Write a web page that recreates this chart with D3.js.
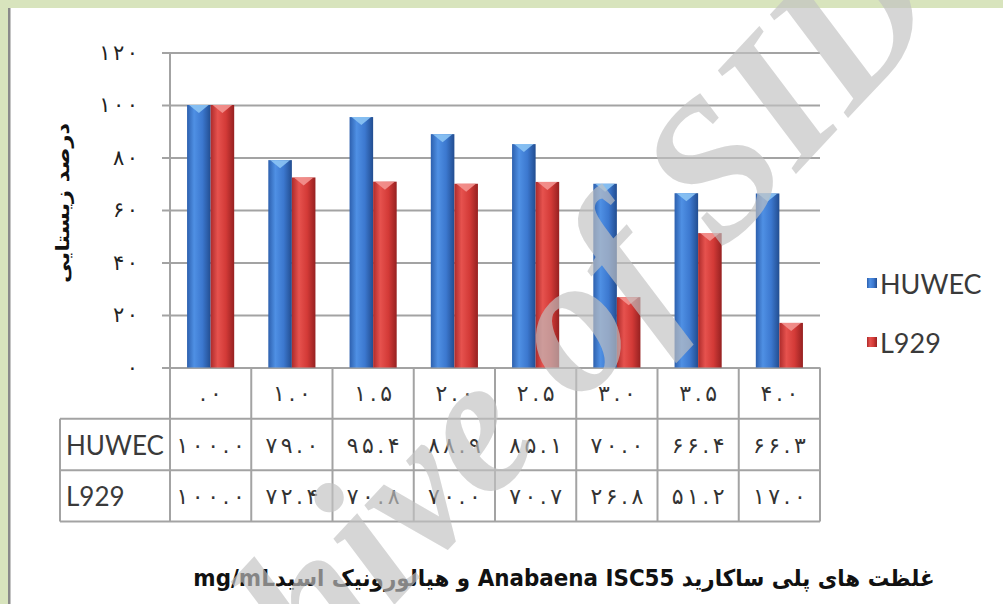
<!DOCTYPE html>
<html>
<head>
<meta charset="utf-8">
<script src="https://cdn.jsdelivr.net/npm/d3@7"></script>
<style>
  html, body { margin: 0; padding: 0; background: #fff; }
  svg { display: block; }
</style>
</head>
<body>
<svg id="chart" width="1003" height="604"></svg>
<script>
// data
const concentrations = [0, 1.0, 1.5, 2.0, 2.5, 3.0, 3.5, 4.0];
const seriesNames = ["HUWEC", "L929"];
const huwec = [100.0, 79.0, 95.4, 88.9, 85.1, 70.0, 66.4, 66.3];
const l929 = [100.0, 72.4, 70.8, 70.0, 70.7, 26.8, 51.2, 17.0];
const yTicks = [0, 20, 40, 60, 80, 100, 120];
const yTitle = "درصد زیستایی";
const xTitle = "غلظت های پلی ساکارید Anabaena ISC55 و هیالورونیک اسیدmg/mL";
const watermark = "Archive of SID";

const W = 1003, H = 604;
const pLeft = 170, pRight = 820, pTop = 52.5, pBase = 367.5, tableBottom = 521.5, tableLeft = 60;

const faDigits = "۰۱۲۳۴۵۶۷۸۹";
const fa = s => String(s).replace(/\d/g, d => faDigits[d]);
// excel "#.0" style, so zero shows as ".0"
const catFmt = v => { const s = v.toFixed(1); return s.startsWith("0") ? s.slice(1) : s; };

// chrome ignores letter-spacing on arabic-script digits, so space them with tspans
function spaced(sel, sp) {
  sel.each(function () {
    const t = d3.select(this);
    const str = t.text();
    t.text(null);
    [...str].forEach((ch, i) => t.append("tspan").attr("dx", i ? sp : null).text(ch));
  });
}

const rows = concentrations.map((c, i) => ({ c, HUWEC: huwec[i], L929: l929[i] }));
const valuesBy = { HUWEC: huwec, L929: l929 };

const svg = d3.select("#chart");
const defs = svg.append("defs");

const grads = {
  HUWEC: ["#2d60ae", "#4f90e4", "#3c78cf", "#224d90"],
  L929:  ["#ad2b2b", "#e6524e", "#d33a37", "#962121"]
};
const capColor = { HUWEC: "#8cc4f4", L929: "#f39490" };
Object.entries(grads).forEach(([k, cols]) => {
  const g = defs.append("linearGradient").attr("id", "g-" + k)
    .attr("x1", "0%").attr("x2", "100%").attr("y1", "0%").attr("y2", "0%");
  [0, 30, 65, 100].forEach((o, i) => g.append("stop").attr("offset", o + "%").attr("stop-color", cols[i]));
});

// page frame
svg.append("rect").attr("width", W).attr("height", H).attr("fill", "#fff");
svg.append("rect").attr("width", W).attr("height", 8).attr("fill", "#d8e4bd");
svg.append("rect").attr("width", 8).attr("height", H).attr("fill", "#d8e4bd");
svg.append("rect").attr("x", 8).attr("y", 8).attr("width", 2.5).attr("height", H - 8).attr("fill", "#8a8a8a");

const y = d3.scaleLinear().domain([0, 120]).range([pBase, pTop]);
const xCol = d3.scaleBand().domain(concentrations).range([pLeft, pRight]);
const x0 = d3.scaleBand().domain(concentrations).range([pLeft, pRight]).paddingInner(0.42).paddingOuter(0.21);
const x1 = d3.scaleBand().domain(seriesNames).range([0, x0.bandwidth()]);
const rowScale = d3.scaleBand().domain(["cat", "HUWEC", "L929"]).range([pBase, tableBottom]);

const lineCol = "#a3a3a3";

// gridlines
svg.append("g").attr("transform", `translate(${pRight},0)`)
  .call(d3.axisLeft(y).tickValues(yTicks).tickSize(pRight - 162).tickFormat(""))
  .call(g => g.select(".domain").remove())
  .selectAll("line").attr("stroke", lineCol).attr("stroke-width", 2);

// y tick labels
svg.append("g").attr("transform", `translate(${pLeft},0)`)
  .call(d3.axisLeft(y).tickValues(yTicks).tickSize(0).tickPadding(32).tickFormat(fa))
  .call(g => g.select(".domain").remove())
  .selectAll("text").attr("font-family", "DejaVu Sans").attr("font-size", 21).attr("fill", "#222")
  .call(spaced, 2.5);

// y title
const yt = svg.append("text")
  .attr("font-family", "DejaVu Sans").attr("font-weight", "bold").attr("font-size", 19)
  .attr("fill", "#111").attr("text-anchor", "middle").attr("dominant-baseline", "central")
  .style("direction", "rtl").text(yTitle);
const ytLen = yt.node().getComputedTextLength();
yt.attr("transform", `translate(63,203) rotate(-90) scale(${160 / ytLen},1)`);

// bars
const cat = svg.append("g").selectAll("g").data(rows).join("g")
  .attr("transform", d => `translate(${x0(d.c)},0)`);
const bars = cat.selectAll("g").data(d => seriesNames.map(s => ({ s, v: d[s] }))).join("g");
bars.append("rect")
  .attr("x", d => x1(d.s)).attr("y", d => y(d.v))
  .attr("width", x1.bandwidth()).attr("height", d => pBase - y(d.v))
  .attr("fill", d => `url(#g-${d.s})`);
bars.append("path")
  .attr("d", d => {
    const xa = x1(d.s), w = x1.bandwidth(), ya = y(d.v);
    return `M${xa + 2},${ya}L${xa + w - 2},${ya}L${xa + w / 2},${ya + 8}Z`;
  })
  .attr("fill", d => capColor[d.s]).attr("opacity", 0.9);

// axis line + table grid
const tbl = svg.append("g").attr("stroke", lineCol).attr("stroke-width", 2);
tbl.append("line").attr("x1", pLeft).attr("x2", pLeft).attr("y1", pTop).attr("y2", tableBottom);
concentrations.slice(1).forEach(c => {
  tbl.append("line").attr("x1", xCol(c)).attr("x2", xCol(c)).attr("y1", pBase).attr("y2", tableBottom);
});
tbl.append("line").attr("x1", pRight).attr("x2", pRight).attr("y1", pBase).attr("y2", tableBottom);
tbl.append("line").attr("x1", tableLeft).attr("x2", tableLeft).attr("y1", rowScale("HUWEC")).attr("y2", tableBottom);
[rowScale("HUWEC"), rowScale("L929"), tableBottom].forEach(yy => {
  tbl.append("line").attr("x1", tableLeft).attr("x2", pRight).attr("y1", yy).attr("y2", yy);
});

const mid = k => rowScale(k) + rowScale.bandwidth() / 2;
const cellX = c => xCol(c) + xCol.bandwidth() / 2;

svg.append("g").selectAll("text").data(concentrations).join("text")
  .attr("x", cellX).attr("y", mid("cat"))
  .attr("text-anchor", "middle").attr("dominant-baseline", "central")
  .attr("font-family", "DejaVu Sans").attr("font-size", 22).attr("fill", "#333")
  .text(c => fa(catFmt(c)))
  .call(spaced, 3.5);

seriesNames.forEach(s => {
  svg.append("text").attr("x", tableLeft + 6).attr("y", mid(s)).attr("dominant-baseline", "central")
    .attr("font-family", "Lato").attr("font-size", 26).attr("fill", "#3a3a3a").text(s);
  svg.append("g").selectAll("text").data(valuesBy[s]).join("text")
    .attr("x", (v, i) => cellX(concentrations[i])).attr("y", mid(s))
    .attr("text-anchor", "middle").attr("dominant-baseline", "central")
    .attr("font-family", "DejaVu Sans").attr("font-size", 22).attr("fill", "#333")
    .text(v => fa(v.toFixed(1)))
    .call(spaced, 3.5);
});

// legend
const legY = { HUWEC: 283, L929: 342 };
seriesNames.forEach(s => {
  svg.append("rect").attr("x", 867).attr("y", legY[s] - 5).attr("width", 10).attr("height", 10)
    .attr("fill", `url(#g-${s})`);
  svg.append("text").attr("x", 880).attr("y", legY[s]).attr("dominant-baseline", "central")
    .attr("font-family", "Lato").attr("font-size", 27).attr("fill", "#3a3a3a").text(s);
});

// x title
const xt = svg.append("text")
  .attr("font-family", "DejaVu Sans").attr("font-weight", "bold").attr("font-size", 23)
  .attr("fill", "#111").attr("text-anchor", "middle").style("direction", "rtl").text(xTitle);
const xtLen = xt.node().getComputedTextLength();
xt.attr("transform", `translate(564,586) scale(${742 / xtLen},1)`);

// watermark
svg.append("text")
  .attr("transform", "translate(945,14) rotate(-47)")
  .attr("text-anchor", "end")
  .attr("font-family", "Liberation Serif").attr("font-style", "italic").attr("font-weight", "bold")
  .attr("font-size", 195)
  .attr("fill", "#c2c2c2").attr("opacity", 0.66)
  .text(watermark);
</script>
</body>
</html>
